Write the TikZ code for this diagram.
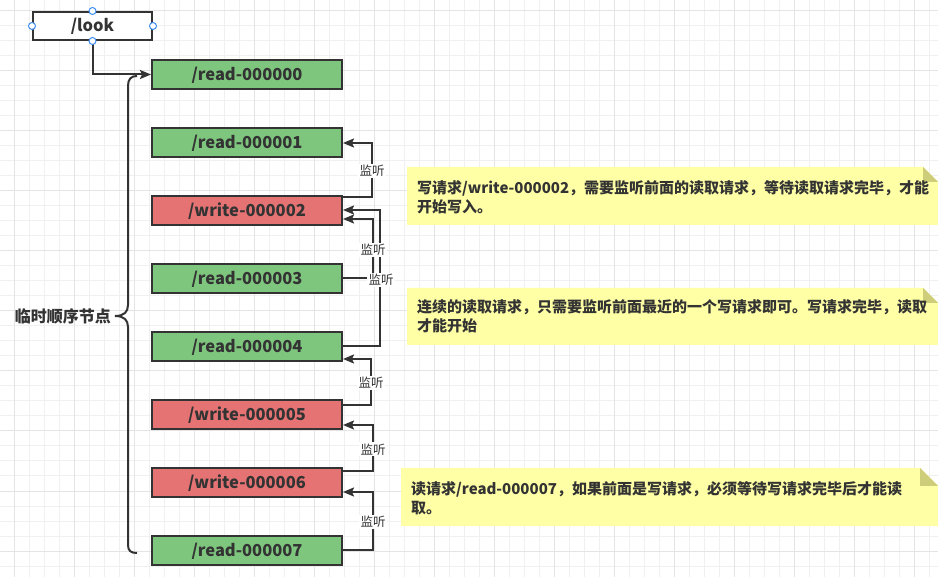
\documentclass[tikz,border=0pt]{standalone}
\usepackage{fontspec}
\setmainfont{Noto Sans CJK SC}
\usetikzlibrary{arrows.meta}
\definecolor{gminor}{HTML}{F0F0F0}
\definecolor{gmajor}{HTML}{E4E4E4}
\definecolor{ink}{HTML}{333333}
\definecolor{gnode}{HTML}{7EC67E}
\definecolor{rnode}{HTML}{E57373}
\definecolor{notey}{HTML}{FFFFA6}
\definecolor{notef}{HTML}{CDCD7A}
\definecolor{handle}{HTML}{3D8EF0}
\tikzset{
  minorline/.style={gminor, line width=1pt},
  majorline/.style={gmajor, line width=1pt},
  box/.style={draw=ink, line width=2pt, minimum width=190pt, minimum height=29pt, inner sep=0pt,
    text height=12pt, text depth=0pt,
    text=ink, font=\fontsize{16.5}{18}\selectfont\bfseries},
  rbox/.style={box, fill=gnode},
  wbox/.style={box, fill=rnode},
  lookbox/.style={box, fill=white, minimum width=119pt, minimum height=28pt},
  conn/.style={draw=ink, line width=2pt, -{Stealth[length=11pt,width=9pt,inset=2pt]}},
  lbl/.style={fill=white, text=ink, inner sep=1.5pt, font=\fontsize{12.5}{14}\selectfont},
  hdl/.style={draw=handle, fill=white, line width=1pt, circle, minimum size=7pt, inner sep=0pt},
  notebg/.style={fill=notey},
  notefold/.style={fill=notef},
  notetext/.style={anchor=north west, align=left, text=ink, inner sep=0pt,
    font=\fontsize{15}{19}\selectfont\bfseries},
  bracelbl/.style={anchor=east, text=ink, inner sep=0pt, font=\fontsize{16}{18}\selectfont\bfseries},
  bracepath/.style={draw=ink, line width=2pt}
}
\begin{document}
\begin{tikzpicture}[x=1pt,y=-1pt]
\useasboundingbox (0,0) rectangle (938,577);
\fill[white] (0,0) rectangle (938,577);
% grid
\foreach \x in {-1,14,...,940} \draw[minorline] (\x,0) -- (\x,577);
\foreach \y in {11,26,...,580} \draw[minorline] (0,\y) -- (938,\y);
\foreach \x in {14,74,...,940} \draw[majorline] (\x,0) -- (\x,577);
\foreach \y in {11,71,...,580} \draw[majorline] (0,\y) -- (938,\y);

% nodes
\node[lookbox] (look) at (92.5,26) {/look};
\node[rbox] (r0) at (247,74.5) {/read-000000};
\node[rbox] (r1) at (247,142.5) {/read-000001};
\node[wbox] (w2) at (247,210.5) {/write-000002};
\node[rbox] (r3) at (247,278.5) {/read-000003};
\node[rbox] (r4) at (247,346.5) {/read-000004};
\node[wbox] (w5) at (247,414.5) {/write-000005};
\node[wbox] (w6) at (247,482.5) {/write-000006};
\node[rbox] (r7) at (247,550.5) {/read-000007};

% brace
\draw[bracepath] (137,76) .. controls (131,76) and (128,79) .. (128,86) -- (128,305)
  .. controls (128,312) and (124,316) .. (115,316)
  .. controls (124,316) and (128,320) .. (128,327) -- (128,545)
  .. controls (128,551) and (131,553) .. (137,553);
\node[bracelbl] (bl) at (111,316) {临时顺序节点};

% connectors
\draw[conn] (look.south) |- (r0.west);
\draw[conn] ([yshift=13pt]w2.east) -- ++(29,0) |- coordinate[pos=0.25] (m1) ([yshift=-0.5pt]r1.east);
\draw[conn] (r4.east) -- ++(37,0) |- coordinate[pos=0.25] (m3) ([yshift=0.5pt]w2.east);
\draw[conn] (r3.east) -- ++(30,0) |- coordinate[pos=0.25] (m2) ([yshift=-8.5pt]w2.east);
\draw[conn] ([yshift=9pt]w5.east) -- ++(28,0) |- coordinate[pos=0.25] (m4) ([yshift=-12.5pt]r4.east);
\draw[conn] ([yshift=11pt]w6.east) -- ++(30,0) |- coordinate[pos=0.25] (m5) ([yshift=-10.5pt]w5.east);
\draw[conn] ([yshift=0.5pt]r7.east) -- ++(30,0) |- coordinate[pos=0.25] (m6) ([yshift=-9.5pt]w6.east);
\node[lbl] (l1) at ([yshift=-1pt]m1) {监听};
\node[lbl] (l2) at ([yshift=-1pt]m2) {监听};
\node[lbl] (l3) at ([yshift=-2pt,xshift=1pt]m3) {监听};
\node[lbl] (l4) at ([yshift=-1pt]m4) {监听};
\node[lbl] (l5) at ([yshift=-1pt]m5) {监听};
\node[lbl] (l6) at ([yshift=-1pt]m6) {监听};

% handles
\node[hdl] (h1) at (look.west) {};
\node[hdl] (h2) at (look.east) {};
\node[hdl] (h3) at (look.north) {};
\node[hdl] (h4) at (look.south) {};

% notes
\fill[notebg] (407,167) -- (923,167) -- (938,182) -- (938,225) -- (407,225) -- cycle;
\fill[notefold] (923,167) -- (938,182) -- (923,182) -- cycle;
\node[notetext] (n1) at (417,180.5) {写请求/write-000002，需要监听前面的读取请求，等待读取请求完毕，才能\\开始写入。};

\fill[notebg] (407,288) -- (923,288) -- (938,303) -- (938,345) -- (407,345) -- cycle;
\fill[notefold] (923,288) -- (938,303) -- (923,303) -- cycle;
\node[notetext] (n2) at (417,299.5) {连续的读取请求，只需要监听前面最近的一个写请求即可。写请求完毕，读取\\才能开始};

\fill[notebg] (401,468) -- (920,468) -- (938,486) -- (938,526) -- (401,526) -- cycle;
\fill[notefold] (920,468) -- (938,486) -- (920,486) -- cycle;
\node[notetext] (n3) at (411,481.5) {读请求/read-000007，如果前面是写请求，必须等待写请求完毕后才能读\\取。};
\end{tikzpicture}
\end{document}
